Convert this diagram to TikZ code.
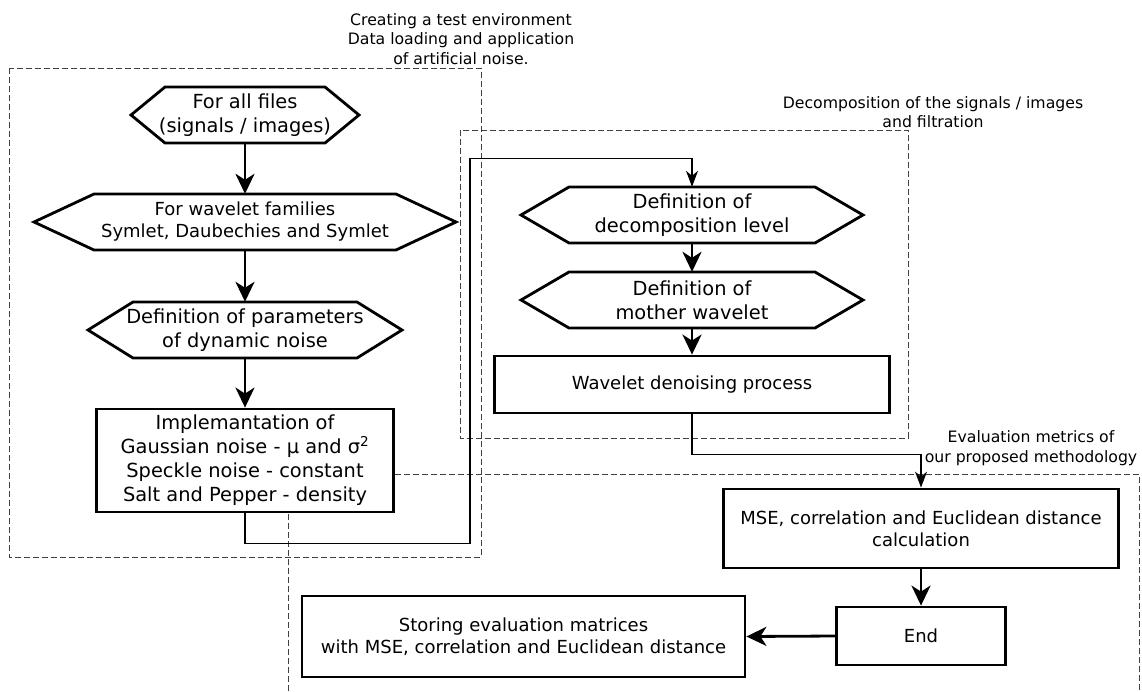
\documentclass[tikz,border=0pt]{standalone}
\usepackage{fontspec}
\setmainfont{DejaVu Sans}
\usetikzlibrary{arrows.meta}

\newcommand{\bigtext}{\fontsize{19.4}{24}\selectfont}
\newcommand{\midtext}{\fontsize{18}{22}\selectfont}
\newcommand{\labeltext}{\fontsize{15.7}{19.5}\selectfont}

% hexagon: name, x, y, half width, indent, font, text
\newcommand{\hexnode}[7]{%
  \draw[hexline] (#2-#4,#3) -- (#2-#4+#5,#3-28) -- (#2+#4-#5,#3-28)
    -- (#2+#4,#3) -- (#2+#4-#5,#3+28) -- (#2-#4+#5,#3+28) -- cycle;
  \node[inner sep=0pt,align=center,font=#6,minimum width=2*#4,minimum height=56] (#1) at (#2,#3) {#7};
}

\begin{document}
\begin{tikzpicture}[x=1pt,y=-1pt,
  hexline/.style={draw,line width=2.8pt,fill=white,line join=miter},
  box/.style={draw,line width=2.8pt,fill=white,inner sep=0pt,align=center},
  flow/.style={line width=2.8pt,-{Stealth[length=20pt,width=19pt,inset=6pt]}},
  link/.style={line width=1.3pt,-{Stealth[length=16pt,width=12pt,inset=5pt]}},
  area/.style={draw=black!75,line width=1pt,dash pattern=on 6pt off 3pt},
  note/.style={align=center,font=\labeltext,inner sep=0pt}]

    \useasboundingbox (0,0) rectangle (1142,691);

    % Dashed areas
    \draw[area] (9,68) rectangle (481,557);
    \draw[area] (460,130) rectangle (908,438);
    \draw[area] (288,700) -- (288,474) -- (1139,474) -- (1139,700);

    \node[note] (envlabel) at (461,39) {Creating a test environment\\Data loading and application\\of artificial noise.};
    \node[note] (declabel) at (933,112) {Decomposition of the signals / images\\and filtration};
    \node[note] (evallabel) at (1031,448) {Evaluation metrics of\\our proposed methodology};

    % Test environment
    \hexnode{files}{245}{115}{114}{34}{\bigtext}{For all files\\(signals / images)}
    \hexnode{families}{245}{222}{211}{60}{\midtext}{For wavelet families\\Symlet, Daubechies and Symlet}
    \hexnode{params}{245}{330}{157}{45}{\bigtext}{Definition of parameters\\of dynamic noise}
    \node[box,font=\bigtext,minimum width=297,minimum height=103] (noise) at (245,460.5)
        {Implemantation of\\Gaussian noise - μ and σ\textsuperscript{2}\\Speckle noise - constant\\Salt and Pepper - density};

    % Decomposition
    \hexnode{level}{692}{215}{171}{48}{\bigtext}{Definition of\\decomposition level}
    \hexnode{mother}{692}{300}{171}{48}{\bigtext}{Definition of\\mother wavelet}
    \node[box,font=\midtext,minimum width=395,minimum height=57] (denoise) at (692,384.5) {Wavelet denoising process};

    % Evaluation
    \node[box,font=\midtext,minimum width=395,minimum height=79] (metrics) at (921,528.5)
        {MSE, correlation and Euclidean distance\\calculation};
    \node[box,font=\midtext,minimum width=169,minimum height=58] (finish) at (921,636) {End};
    \node[box,font=\midtext,minimum width=443,minimum height=81] (store) at (523.5,636.5)
        {Storing evaluation matrices\\with MSE, correlation and Euclidean distance};

    % Connectors
    \draw[flow] (files.south) -- (families.north);
    \draw[flow] (families.south) -- (params.north);
    \draw[flow] (params.south) -- (noise.north);
    \draw[flow] (level.south) -- (mother.north);
    \draw[flow] (mother.south) -- (denoise.north);
    \draw[flow] (metrics.south) -- (finish.north);
    \draw[flow] (finish.west) -- (store.east);
    \draw[link] (noise.south) -- ++(0,30) -| ++(225,-385) -| (level.north);
    \draw[link] (denoise.south) -- ++(0,40) -| (metrics.north);

\end{tikzpicture}
\end{document}
